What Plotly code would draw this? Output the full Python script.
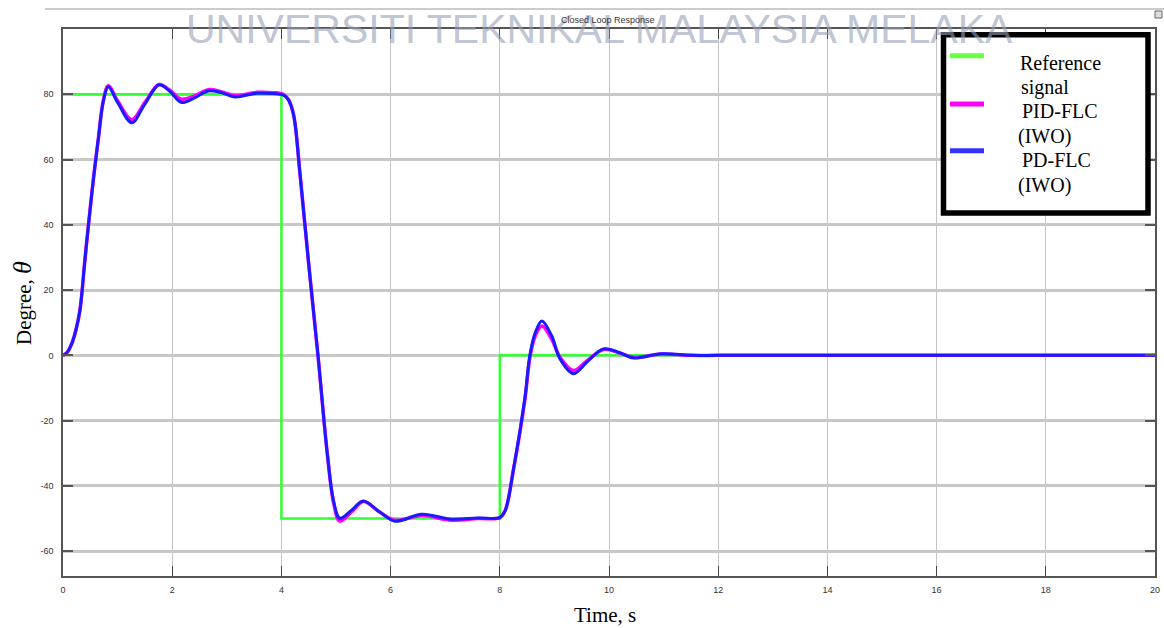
import plotly.graph_objects as go

# Reference step input: level held from each switching time
ref_t = [0, 4, 8, 20]
ref_deg = [80, -50, 0, 0]

# Sampled closed-loop responses (time in s, angle in degrees)
t = [0, 0.08, 0.16, 0.24, 0.31, 0.40, 0.46, 0.56, 0.65, 0.74, 0.83, 1.0, 1.26, 1.5,
     1.76, 1.95, 2.17, 2.4, 2.66, 2.9, 3.15, 3.55, 3.85, 4.03, 4.12, 4.22, 4.34, 4.5,
     4.67, 4.84, 4.96, 5.07, 5.28, 5.5, 5.8, 6.08, 6.57, 7.12, 7.6, 8.0, 8.1, 8.25,
     8.46, 8.55, 8.65, 8.77, 8.95, 9.1, 9.35, 9.6, 9.9, 10.2, 10.45, 10.96, 11.5, 12,
     13, 20]

pd_flc = [0, 1.0, 3.6, 8, 13.8, 29, 39, 54.5, 66.8, 78, 82.3, 77.5, 71.3, 77,
          82.9, 81, 77.5, 78.8, 81, 80.5, 79.2, 80.3, 80.2, 79.8, 78.5, 73.9, 55.7, 28,
          0, -30, -45, -49.9, -47.5, -44.6, -48, -50.8, -48.7, -50.2, -49.8, -49.7, -47.5, -35,
          -13, 0, 7, 10.5, 6, -1, -5.6, -2, 2.0, 0.8, -0.8, 0.5, 0, 0,
          0, 0]

pid_flc = [0, 1.0, 3.6, 8, 13.8, 29, 39, 54.5, 66.8, 78.2, 82.6, 78, 72.2, 77.5,
           83, 81.3, 78.5, 79.4, 81.4, 80.8, 79.6, 80.6, 80.5, 80, 78.6, 74, 55.8, 28,
           0, -30, -45.5, -50.8, -48, -44.8, -48, -50.5, -49.1, -50.5, -50, -49.7, -47.5, -35,
           -13.5, -0.8, 6, 9.0, 5, -0.5, -4.6, -1.6, 1.8, 0.7, -0.6, 0.4, 0, 0,
           0, 0]

y_ticks = [-60, -40, -20, 0, 20, 40, 60, 80]
y_tick_text = ["-60", "-40", "-20", "0", "20", "40", "60", "80"]

W, H = 1164, 628
L, R, T, B = 63, 1155, 29, 576


def px(x):
    return (x - L) / (R - L)


def py(y):
    return (B - y) / (B - T)


fig = go.Figure()
fig.add_trace(go.Scatter(x=ref_t, y=ref_deg, mode="lines", line_shape="hv",
                         line=dict(color="#33ff33", width=2.5), name="Reference signal"))
fig.add_trace(go.Scatter(x=t, y=pid_flc, mode="lines",
                         line=dict(color="#ff00ff", width=3.5, shape="spline", smoothing=1.0),
                         name="PID-FLC (IWO)"))
fig.add_trace(go.Scatter(x=t, y=pd_flc, mode="lines",
                         line=dict(color="#1a1aff", width=3, shape="spline", smoothing=1.0),
                         name="PD-FLC (IWO)"))

tick_font = dict(family="Liberation Sans", size=9, color="#333333")

fig.update_layout(
    template="none",
    width=W, height=H,
    margin=dict(l=L, r=W - R, t=T, b=H - B, pad=0),
    paper_bgcolor="white", plot_bgcolor="white",
    showlegend=False,
    xaxis=dict(range=[0, 20], dtick=2, tick0=0, showgrid=True, gridcolor="#c4c4c4",
               gridwidth=1.3, zeroline=False, showline=True, linecolor="#555555",
               linewidth=1.5, mirror="ticks", ticks="inside", ticklen=10, tickwidth=1.2,
               tickcolor="#444444", tickfont=tick_font, ticklabelstandoff=4,
               automargin=False),
    yaxis=dict(range=[-67.6, 100], tickvals=y_ticks, ticktext=y_tick_text,
               showgrid=True, gridcolor="#c8c8c8", gridwidth=2.5, zeroline=False,
               showline=True, linecolor="#555555", linewidth=1.5, mirror="ticks",
               ticks="inside", ticklen=10, tickwidth=1.5, tickcolor="#555555",
               tickfont=tick_font, ticklabelstandoff=6, automargin=False),
)

shapes = []
# window title rule
shapes.append(dict(type="line", xref="paper", yref="paper", x0=px(45), x1=px(1164),
                   y0=py(9), y1=py(9), line=dict(color="#cccccc", width=2)))
# small window icon
shapes.append(dict(type="rect", xref="paper", yref="paper", x0=px(1155), x1=px(1162),
                   y0=py(18), y1=py(11), line=dict(color="#666666", width=1),
                   fillcolor="#dddddd"))
# legend frame
shapes.append(dict(type="rect", xref="paper", yref="paper", x0=px(943.5), x1=px(1148),
                   y0=py(213), y1=py(34.8), line=dict(color="black", width=5.5),
                   fillcolor="white", layer="above"))
# legend samples
for yy, col in [(55.7, "#66ff44"), (104, "#ff00ff"), (150.7, "#3333ff")]:
    shapes.append(dict(type="line", xref="paper", yref="paper", x0=px(950), x1=px(984),
                       y0=py(yy), y1=py(yy), line=dict(color=col, width=5), layer="above"))
fig.update_layout(shapes=shapes)

ann = []
# watermark
ann.append(dict(text="UNIVERSITI TEKNIKAL MALAYSIA MELAKA", xref="paper", yref="paper",
                x=px(599), y=py(29), xanchor="center", yanchor="middle", showarrow=False,
                font=dict(family="Liberation Sans", size=41,
                          color="rgba(150,160,182,0.62)")))
ann.append(dict(text="Closed Loop Response", xref="paper", yref="paper", x=px(608), y=py(20),
                xanchor="center", yanchor="middle", showarrow=False,
                font=dict(family="Liberation Sans", size=9, color="#333333")))
serif = "Liberation Serif, Times New Roman, serif"
legend_lines = [("Reference", 1018, 63), ("signal", 1019, 88), ("PID-FLC", 1020, 111.5),
                ("(IWO)", 1016, 136.5), ("PD-FLC", 1020, 160.5), ("(IWO)", 1016, 185)]
for txt, xx, yy in legend_lines:
    ann.append(dict(text=txt, xref="paper", yref="paper", x=px(xx), y=py(yy),
                    xanchor="left", yanchor="middle", showarrow=False,
                    font=dict(family=serif, size=20, color="black")))
ann.append(dict(text="Time, s", xref="paper", yref="paper", x=px(605), y=py(615),
                xanchor="center", yanchor="middle", showarrow=False,
                font=dict(family=serif, size=21, color="black")))
ann.append(dict(text="Degree, <i><span style='font-size:26px'>θ</span></i>", xref="paper",
                yref="paper", x=px(22), y=py(303), xanchor="center", yanchor="middle",
                textangle=-90, showarrow=False,
                font=dict(family=serif, size=21, color="black")))
fig.update_layout(annotations=ann)

fig.write_html("out.html")
